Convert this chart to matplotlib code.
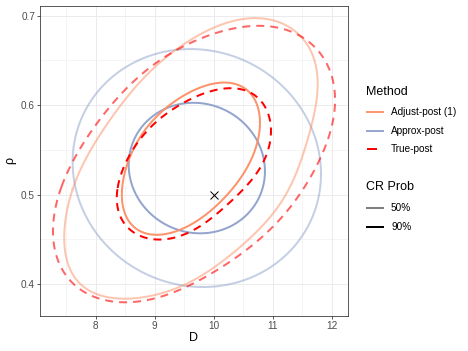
import numpy as np
import matplotlib
matplotlib.use("Agg")
import matplotlib.pyplot as plt
from matplotlib.lines import Line2D

plt.rcParams['font.family'] = ['Liberation Sans', 'DejaVu Sans']

# ---------------- data ----------------
# Adjust-post credible region contours (closed curves, points in order)
adjust90_D = [7.611, 7.662, 7.780, 7.949, 8.118, 8.304, 8.558, 8.727, 8.845, 9.098, 9.318,
              9.656, 10.231, 10.619, 11.075, 11.464, 11.684, 11.751, 11.684, 11.549, 11.329,
              11.042, 10.704, 10.247, 9.690, 9.098, 8.642, 8.253, 7.865, 7.578, 7.493, 7.527]
adjust90_rho = [0.5051, 0.5196, 0.5353, 0.5532, 0.5688, 0.5867, 0.6136, 0.6247, 0.6315, 0.6482,
                0.6583, 0.6762, 0.6918, 0.6963, 0.6930, 0.6807, 0.6538, 0.6247, 0.5867, 0.5498,
                0.5129, 0.4827, 0.4570, 0.4302, 0.4045, 0.3899, 0.3843, 0.3854, 0.3933, 0.4078,
                0.4346, 0.4637]
adjust50_D = [8.473, 8.541, 8.676, 8.963, 9.352, 9.774, 10.112, 10.450, 10.670, 10.754, 10.738,
              10.704, 10.484, 10.197, 9.909, 9.690, 9.436, 9.098, 8.811, 8.591, 8.473]
adjust50_rho = [0.5051, 0.5308, 0.5577, 0.5834, 0.6035, 0.6192, 0.6247, 0.6225, 0.6136, 0.5946,
                0.5688, 0.5498, 0.5196, 0.4973, 0.4794, 0.4693, 0.4626, 0.4548, 0.4570, 0.4637,
                0.4827]
# True-post credible region contours
true90_D = [7.409, 7.611, 7.831, 8.220, 8.625, 9.183, 9.774, 10.231, 10.670, 11.126, 11.464,
            11.751, 11.971, 12.056, 12.022, 11.920, 11.802, 11.549, 11.211, 10.822, 10.366,
            9.909, 9.605, 9.217, 8.980, 8.591, 8.084, 7.747, 7.493, 7.358, 7.290, 7.324]
true90_rho = [0.5085, 0.5353, 0.5632, 0.5946, 0.6259, 0.6538, 0.6751, 0.6840, 0.6874, 0.6862,
              0.6784, 0.6616, 0.6393, 0.6136, 0.5867, 0.5610, 0.5386, 0.5085, 0.4794, 0.4525,
              0.4302, 0.4078, 0.3989, 0.3888, 0.3843, 0.3787, 0.3843, 0.3933, 0.4078, 0.4268,
              0.4525, 0.4794]
true50_D = [8.372, 8.473, 8.625, 8.896, 9.098, 9.352, 9.656, 10.062, 10.400, 10.670, 10.839,
            10.957, 10.957, 10.907, 10.754, 10.535, 10.315, 10.078, 9.808, 9.605, 9.267, 8.980,
            8.710, 8.473, 8.389]
true50_rho = [0.5085, 0.5275, 0.5465, 0.5755, 0.5856, 0.5979, 0.6057, 0.6169, 0.6192, 0.6136,
              0.6024, 0.5834, 0.5610, 0.5498, 0.5275, 0.5085, 0.4917, 0.4794, 0.4660, 0.4604,
              0.4514, 0.4492, 0.4548, 0.4660, 0.4827]
# Approx-post: Gaussian approximation (mean, sds, correlation)
approx_mean = [9.715, 0.5296]
approx_sd = [0.98, 0.062]
approx_corr = -0.05
cr_probs = [0.5, 0.9]

true_value = [10.0, 0.5]

methods = ["Adjust-post (1)", "Approx-post", "True-post"]
cr_labels = ["50%", "90%"]
x_ticks = [8, 9, 10, 11, 12]
y_ticks = [0.4, 0.5, 0.6, 0.7]

# ---------------- style ----------------
col_adjust = "#FC8D62"
col_approx = "#8DA0CB"
col_true = "#FF0000"
alpha_in = 0.95
alpha_out = 0.5
LW = 2.0
FS_TICK = 10
FS_TEXT = 10
FS_TITLE = 12.5

fig = plt.figure(figsize=(6.5, 4.875), dpi=72)
W, H = 468, 351
ax = fig.add_axes([40 / W, 1 - 315.7 / H, (348 - 40) / W, (315.7 - 6) / H])
ax.set_xlim(7.06, 12.275)
ax.set_ylim(0.3645, 0.7108)

SX, SY = 59.18, 894.3  # data-to-pixel scale, used only for smoothing the drawn outline


def smooth_closed(xs, ys, K=5, n=600):
    """Smooth closed outline through the read points (low-order Fourier fit)."""
    x = np.asarray(xs) * SX
    y = np.asarray(ys) * SY
    seg = np.hypot(np.diff(np.r_[x, x[0]]), np.diff(np.r_[y, y[0]]))
    s = np.r_[0, np.cumsum(seg)[:-1]] / seg.sum() * 2 * np.pi
    cols = [np.ones_like(s)]
    for k in range(1, K + 1):
        cols += [np.cos(k * s), np.sin(k * s)]
    A = np.column_stack(cols)
    cx, *_ = np.linalg.lstsq(A, x, rcond=None)
    cy, *_ = np.linalg.lstsq(A, y, rcond=None)
    t = np.linspace(0, 2 * np.pi, n)
    cols = [np.ones_like(t)]
    for k in range(1, K + 1):
        cols += [np.cos(k * t), np.sin(k * t)]
    B = np.column_stack(cols)
    return B @ cx / SX, B @ cy / SY


def draw(xs, ys, color, alpha, dashed=False, z=3, K=5):
    px, py = smooth_closed(xs, ys, K=K)
    ls = (0, (4, 3)) if dashed else "-"
    ax.plot(px, py, color=color, lw=LW, alpha=alpha, linestyle=ls, zorder=z,
            dash_capstyle="butt")


# Approx-post ellipses
cov = np.array([[approx_sd[0] ** 2, approx_corr * approx_sd[0] * approx_sd[1]],
                [approx_corr * approx_sd[0] * approx_sd[1], approx_sd[1] ** 2]])
L = np.linalg.cholesky(cov)
t = np.linspace(0, 2 * np.pi, 400)
for p, a in zip(cr_probs, [alpha_in, alpha_out]):
    r = np.sqrt(-2 * np.log(1 - p))
    pts = (L @ np.vstack([r * np.cos(t), r * np.sin(t)])).T + approx_mean
    ax.plot(pts[:, 0], pts[:, 1], color=col_approx, lw=LW, alpha=a, zorder=3)

draw(adjust90_D, adjust90_rho, col_adjust, alpha_out, K=6)
draw(adjust50_D, adjust50_rho, col_adjust, alpha_in, K=4)
draw(true90_D, true90_rho, col_true, 0.6, dashed=True, z=4, K=6)
draw(true50_D, true50_rho, col_true, 1.0, dashed=True, z=4, K=4)

ax.plot([true_value[0]], [true_value[1]], marker="x", color="black", ms=7.5, mew=1.0, zorder=5)

# theme_bw-ish
ax.set_xticks(x_ticks)
ax.set_yticks(y_ticks)
ax.set_xticklabels([str(v) for v in x_ticks])
ax.set_yticklabels([f"{v:.1f}" for v in y_ticks])
ax.set_xticks([7.5, 8.5, 9.5, 10.5, 11.5], minor=True)
ax.set_yticks([0.45, 0.55, 0.65], minor=True)
ax.grid(True, which="major", color="#EBEBEB", lw=1.0, zorder=0)
ax.grid(True, which="minor", color="#EBEBEB", lw=0.5, zorder=0)
ax.set_axisbelow(True)
ax.tick_params(which="major", length=3, width=0.8, color="#333333",
               labelsize=FS_TICK, labelcolor="#4D4D4D", pad=2)
ax.tick_params(which="minor", length=0)
for s in ax.spines.values():
    s.set_color("#333333")
    s.set_linewidth(0.8)
ax.set_xlabel("D", fontsize=FS_TITLE, labelpad=1)
ax.set_ylabel("ρ", fontsize=FS_TITLE, labelpad=5)


# legend (drawn manually)
def fx(px):
    return px / W


def fy(py):
    return 1 - py / H


fig.text(fx(366), fy(92), "Method", fontsize=FS_TITLE, va="center", ha="left")
rows = [112, 131, 149]
key_specs = [(col_adjust, "-", 0.9), (col_approx, "-", 0.9), (col_true, (0, (5, 4)), 1.0)]
for lab, y, (c, ls, a) in zip(methods, rows, key_specs):
    fig.add_artist(Line2D([fx(367), fx(383)], [fy(y), fy(y)], color=c, lw=LW,
                          linestyle=ls, alpha=a, transform=fig.transFigure,
                          dash_capstyle="butt"))
    fig.text(fx(391), fy(y), lab, fontsize=FS_TEXT, va="center", ha="left")

fig.text(fx(366), fy(187), "CR Prob", fontsize=FS_TITLE, va="center", ha="left")
for lab, y, c in zip(cr_labels, [208, 227], ["#7F7F7F", "#000000"]):
    fig.add_artist(Line2D([fx(367), fx(383)], [fy(y), fy(y)], color=c, lw=LW,
                          transform=fig.transFigure))
    fig.text(fx(391), fy(y), lab, fontsize=FS_TEXT, va="center", ha="left")

fig.savefig("out.png", dpi=72)
